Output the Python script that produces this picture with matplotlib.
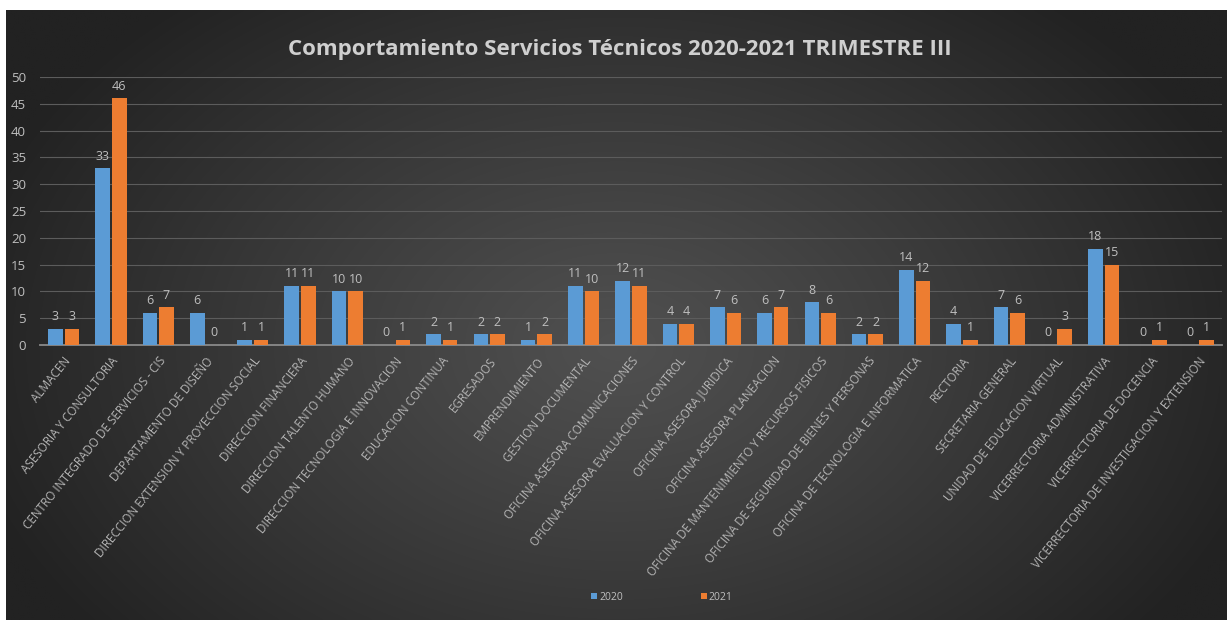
import numpy as np
import matplotlib
matplotlib.use("Agg")
import matplotlib.pyplot as plt

categories = [
    "ALMACEN", "ASESORIA Y CONSULTORIA", "CENTRO INTEGRADO DE SERVICIOS - CIS",
    "DEPARTAMENTO DE DISEÑO", "DIRECCION EXTENSION Y PROYECCION SOCIAL",
    "DIRECCION FINANCIERA", "DIRECCION TALENTO HUMANO",
    "DIRECCION TECNOLOGIA E INNOVACION", "EDUCACION CONTINUA", "EGRESADOS",
    "EMPRENDIMIENTO", "GESTION DOCUMENTAL", "OFICINA ASESORA COMUNICACIONES",
    "OFICINA ASESORA EVALUACION Y CONTROL", "OFICINA ASESORA JURIDICA",
    "OFICINA ASESORA PLANEACION", "OFICINA DE MANTENIMIENTO Y RECURSOS FISICOS",
    "OFICINA DE SEGURIDAD DE BIENES Y PERSONAS",
    "OFICINA DE TECNOLOGIA E INFORMATICA", "RECTORIA", "SECRETARIA GENERAL",
    "UNIDAD DE EDUCACION VIRTUAL", "VICERRECTORIA ADMINISTRATIVA",
    "VICERRECTORIA DE DOCENCIA", "VICERRECTORIA DE INVESTIGACION Y EXTENSION",
]
values_2020 = [3, 33, 6, 6, 1, 11, 10, 0, 2, 2, 1, 11, 12, 4, 7, 6, 8, 2, 14, 4, 7, 0, 18, 0, 0]
values_2021 = [3, 46, 7, 0, 1, 11, 10, 1, 1, 2, 2, 10, 11, 4, 6, 7, 6, 2, 12, 1, 6, 3, 15, 1, 1]
series_names = ["2020", "2021"]
title = "Comportamiento Servicios Técnicos 2020-2021 TRIMESTRE III"

W, H = 1227, 620
fig = plt.figure(figsize=(W / 100, H / 100), dpi=100)
fig.patch.set_facecolor("white")

# background panel with radial gradient
bg = fig.add_axes([6 / W, 0, 1 - 6 / W, 610 / H], zorder=0)
bg.set_axis_off()
ny, nx = 300, 600
yy, xx = np.mgrid[0:ny, 0:nx]
cx, cy = nx * 0.50, ny * 0.55
d = np.sqrt(((xx - cx) / (nx * 0.55)) ** 2 + ((yy - cy) / (ny * 0.75)) ** 2)
d = np.clip(d, 0, 1)
light, dark = 0x50 / 255, 0x22 / 255
g = light + (dark - light) * d ** 1.1
img = np.dstack([g, g, g])
bg.imshow(img, aspect="auto", extent=[0, 1, 0, 1], interpolation="bilinear")
bg.set_xlim(0, 1)
bg.set_ylim(0, 1)

ax = fig.add_axes([40 / W, 1 - 345 / H, 1182 / W, 268 / H], zorder=1)
ax.set_facecolor("none")
x = np.arange(len(categories))
bw = 0.31
off = 0.175
c20, c21 = "#5b9bd5", "#ed7d31"
b1 = ax.bar(x - off, values_2020, bw, color=c20, label=series_names[0], zorder=3)
b2 = ax.bar(x + off, values_2021, bw, color=c21, label=series_names[1], zorder=3)

lab_col = "#bfbfbf"
for bars in (b1, b2):
    ax.bar_label(bars, padding=4, color=lab_col, fontsize=9, family="Open Sans")

ax.set_xlim(-0.5, len(categories) - 0.5)
ax.set_ylim(0, 50)
ax.set_yticks(np.arange(0, 51, 5))
ax.yaxis.grid(True, color="#5c5c5c", lw=0.8, zorder=0)
ax.set_axisbelow(True)
for s in ["top", "right", "left"]:
    ax.spines[s].set_visible(False)
ax.spines["bottom"].set_color("#8a8a8a")
ax.spines["bottom"].set_linewidth(1.3)
ax.tick_params(axis="y", length=0, pad=10, labelcolor=lab_col, labelsize=9.5)
ax.tick_params(axis="x", length=0, pad=7, labelcolor="#b5b5b5")
for t in ax.get_yticklabels():
    t.set_family("Open Sans")
ax.set_xticks(x)
ax.set_xticklabels(categories, rotation=51, ha="right", rotation_mode="anchor",
                   fontsize=8.4, family="Open Sans")

fig.text(620 / W, 1 - 50 / H, title, ha="center", va="center", fontsize=16,
         fontweight="bold", color="#cfcfcf", family="Open Sans")

leg = fig.legend(handles=[b1, b2], loc="center", bbox_to_anchor=(662 / W, 1 - 597 / H),
                 ncol=2, frameon=False, handlelength=0.55, handleheight=0.55,
                 handletextpad=0.2, columnspacing=7.5,
                 prop={"family": "Open Sans", "size": 7.5})
for t in leg.get_texts():
    t.set_color(lab_col)

fig.savefig("out.png", dpi=100, facecolor=fig.get_facecolor())
